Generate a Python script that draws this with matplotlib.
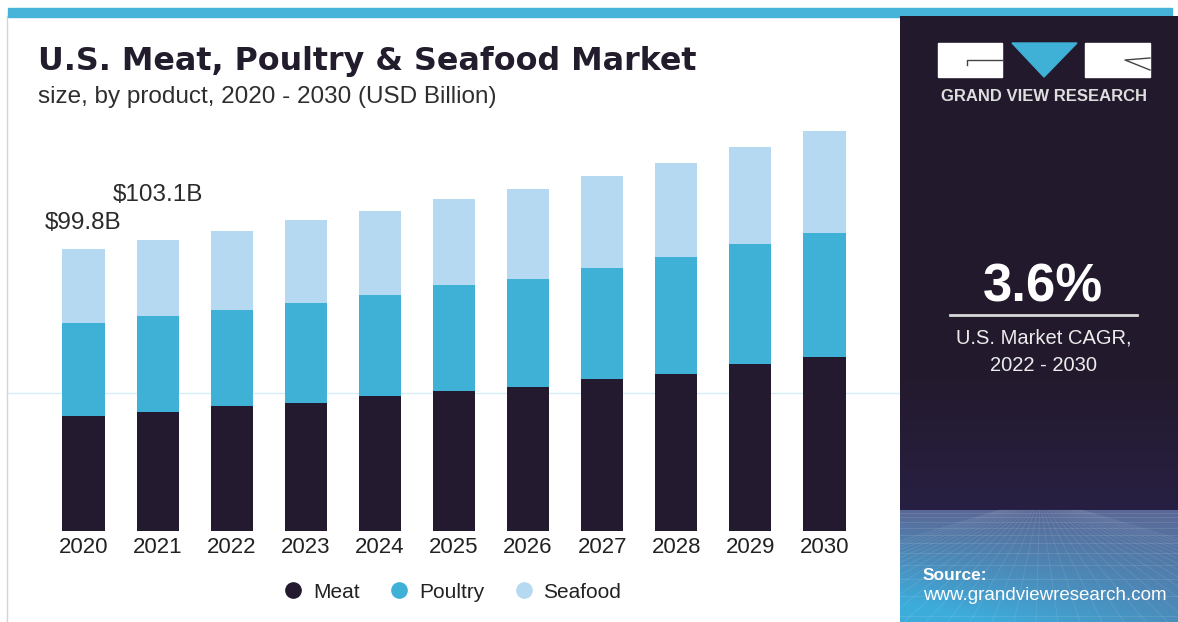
import numpy as np
import matplotlib
matplotlib.use("Agg")
import matplotlib.pyplot as plt
from matplotlib.patches import Rectangle, Polygon
from matplotlib.lines import Line2D

# market size by product, USD billion
years = ["2020", "2021", "2022", "2023", "2024", "2025", "2026", "2027", "2028", "2029", "2030"]
meat = [40.5, 42.0, 44.0, 45.2, 47.6, 49.5, 50.9, 53.8, 55.5, 59.2, 61.6]
poultry = [33.0, 34.1, 34.2, 35.4, 36.0, 37.6, 38.5, 39.2, 41.6, 42.5, 44.0]
seafood = [26.3, 27.0, 28.2, 29.5, 29.7, 30.4, 31.9, 32.8, 33.3, 34.4, 36.2]
labels = ["Meat", "Poultry", "Seafood"]
callouts = {0: "$99.8B", 1: "$103.1B"}

C_MEAT = "#231a30"
C_POULTRY = "#3fb1d7"
C_SEAFOOD = "#b6d9f2"

W, H = 1178, 622
plt.rcParams["font.family"] = ["Liberation Sans", "DejaVu Sans"]


def fx(px):
    return px / W


def fy(py):
    return 1 - py / H


fig = plt.figure(figsize=(W / 100, H / 100), dpi=100)
fig.patch.set_facecolor("white")

# frame bits
fig.patches.append(Rectangle((fx(8), fy(16.5)), fx(1172) - fx(8), 8.5 / H,
                             transform=fig.transFigure, color="#46b3d9", zorder=-2))
fig.lines.append(Line2D([fx(7), fx(7)], [0, fy(16)], transform=fig.transFigure,
                        color="#d4d4d4", lw=1, zorder=-2))
fig.lines.append(Line2D([fx(8), fx(900)], [fy(393), fy(393)], transform=fig.transFigure,
                        color="#d6eef7", lw=1, zorder=-2))

# bar chart
ax = fig.add_axes([fx(8), fy(530.5), fx(900) - fx(8), (530.5 - 110) / H])
ax.patch.set_alpha(0)
x = np.arange(len(years))
bw = 0.567
meat_a = np.array(meat)
poul_a = np.array(poultry)
sea_a = np.array(seafood)
ax.bar(x, meat_a, bw, color=C_MEAT, zorder=2)
ax.bar(x, poul_a, bw, bottom=meat_a, color=C_POULTRY, zorder=2)
ax.bar(x, sea_a, bw, bottom=meat_a + poul_a, color=C_SEAFOOD, zorder=2)
totals = meat_a + poul_a + sea_a

offsets = {0: 14.5, 1: 28}
for i, txt in callouts.items():
    ax.annotate(txt, (x[i], totals[i]), xytext=(0, offsets[i]), textcoords="offset points",
                ha="center", va="baseline", fontsize=17.5, color="#2a2a2a")

ax.set_xlim(-1.019, 11.019)
ax.set_ylim(0, 149.2)
ax.set_xticks(x)
ax.set_xticklabels(years, fontsize=16, color="#222222")
ax.tick_params(axis="x", length=0, pad=5)
ax.set_yticks([])
for s in ax.spines.values():
    s.set_visible(False)

handles = [Line2D([], [], marker="o", ls="", color=c, markersize=11)
           for c in (C_MEAT, C_POULTRY, C_SEAFOOD)]
fig.legend(handles, labels, loc="center", bbox_to_anchor=(fx(452), fy(592)), ncol=3,
           frameon=False, fontsize=15, handlelength=1.0, handletextpad=0.45,
           columnspacing=1.4, labelcolor="#222222")

fig.text(fx(38), fy(70), "U.S. Meat, Poultry & Seafood Market", fontsize=22.9,
         fontweight="bold", family="DejaVu Sans", color="#221c2c", va="baseline")
fig.text(fx(38), fy(103), "size, by product, 2020 - 2030 (USD Billion)", fontsize=17.5,
         color="#2e2e2e", va="baseline")

# right hand panel
ap = fig.add_axes([fx(900), 0, fx(1178) - fx(900), (H - 15.5) / H])
ap.set_xlim(900, 1178)
ap.set_ylim(H, 15.5)
ap.axis("off")

rows = np.arange(15.5, H, 1.0)
cols = np.arange(900, 1178, 1.0)
img = np.zeros((len(rows), len(cols), 3))
dark = np.array([0x23, 0x1a, 0x2e]) / 255
dark2 = np.array([0x28, 0x20, 0x42]) / 255
top_g = np.array([0x5a, 0x68, 0x96]) / 255
bot_g = np.array([0x3d, 0xad, 0xdc]) / 255
for r, yy in enumerate(rows):
    if yy < 510:
        t = max(0, (yy - 380) / 130)
        img[r, :] = dark * (1 - t) + dark2 * t
    else:
        t = (yy - 510) / (H - 510)
        h = np.clip(1 - (cols - 900) / 278, 0, 1)[:, None]
        k = np.clip(t * (0.55 + 0.65 * h), 0, 1)
        img[r, :] = top_g * (1 - k) + bot_g * k
ap.imshow(img, extent=(900, 1178, H, 15.5), aspect="auto", zorder=0)

# faint perspective grid on the floor
for yy in (513, 517, 522, 528, 535, 543, 553, 565, 579, 596, 616):
    ap.plot([900, 1178], [yy, yy], color="white", alpha=0.10, lw=0.7, zorder=1)
for xb in np.arange(640, 1460, 22):
    ap.plot([1040 + (xb - 1040) * 0.1, xb], [510, H], color="white", alpha=0.09, lw=0.7, zorder=1)

# logo
ap.add_patch(Rectangle((938, 43), 64, 34, color="white", zorder=3))
ap.add_patch(Rectangle((1085, 43), 65, 34, color="white", zorder=3))
ap.add_patch(Polygon([(1012, 43), (1077, 43), (1044, 77)], color=C_POULTRY, zorder=3))
ap.plot([967, 967, 1002], [65, 60, 60], color="#444444", lw=1, zorder=4)
ap.plot([1150, 1125, 1150], [58, 60, 70], color="#444444", lw=1, zorder=4)
ap.text(1044, 101, "GRAND VIEW RESEARCH", ha="center", va="baseline", fontsize=12,
        fontweight="bold", color="#dedede", zorder=4)

ap.text(1043, 302, "3.6%", ha="center", va="baseline", fontsize=38, fontweight="bold",
        color="white", zorder=4)
ap.plot([950, 1137], [315, 315], color="#d8d8d8", lw=2, zorder=4)
ap.text(1044, 344, "U.S. Market CAGR,", ha="center", va="baseline", fontsize=14.5,
        color="#ececec", zorder=4)
ap.text(1044, 371, "2022 - 2030", ha="center", va="baseline", fontsize=14.5,
        color="#ececec", zorder=4)

ap.text(923, 580, "Source:", ha="left", va="baseline", fontsize=12.5, fontweight="bold",
        color="white", zorder=4)
ap.text(923, 600, "www.grandviewresearch.com", ha="left", va="baseline", fontsize=13.5,
        color="white", zorder=4)

fig.savefig("out.png", dpi=100)
